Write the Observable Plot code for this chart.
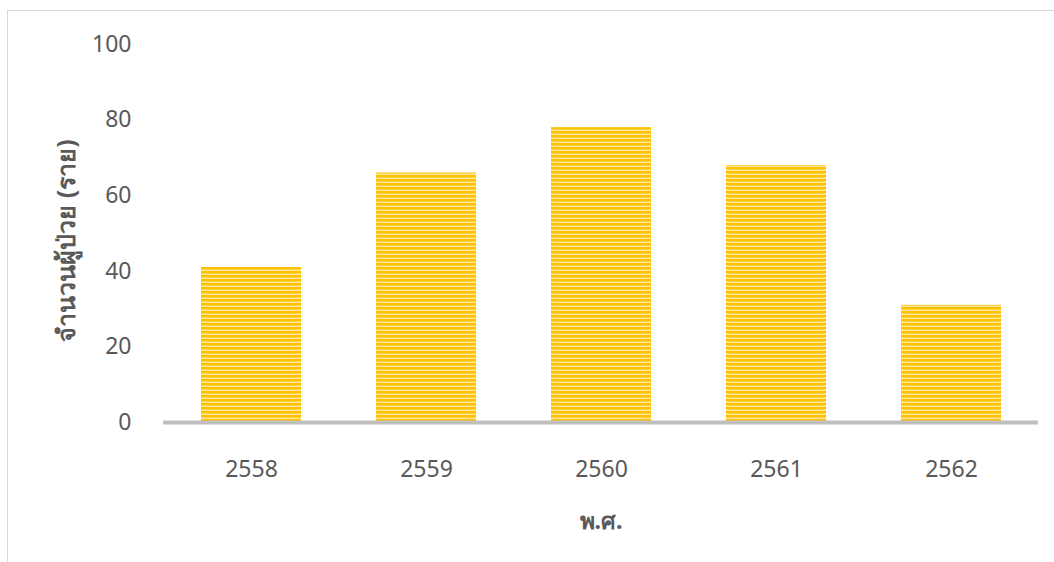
<!DOCTYPE html>
<html>
<head>
<meta charset="utf-8">
<script src="https://cdn.jsdelivr.net/npm/d3@7"></script>
<script src="https://cdn.jsdelivr.net/npm/@observablehq/plot@0.6"></script>
<style>
  html, body { margin: 0; padding: 0; background: #fff; overflow: hidden; }
  #frame { position: absolute; left: 7px; top: 10px; width: 1100px; height: 600px;
           border: 1px solid #d9d9d9; box-sizing: border-box; }
  #chart { position: absolute; left: 0; top: 0; }
</style>
</head>
<body>
<div id="frame"><div id="chart"></div></div>
<script>
// Patients per Buddhist-era year
const years = ["2558", "2559", "2560", "2561", "2562"];
const patients = [41, 66, 78, 68, 31];
const yTicks = [0, 20, 40, 60, 80, 100];
const yTitle = "จำนวนผู้ป่วย (ราย)";
const xTitle = "พ.ศ.";

const data = years.map((year, i) => ({year, value: patients[i]}));

const chart = Plot.plot({
  width: 1046,
  height: 551,
  marginLeft: 155,
  marginRight: 16,
  marginTop: 33,
  marginBottom: 140,
  style: {fontFamily: "'Noto Sans', sans-serif", fontSize: "23px", color: "#595959", background: "transparent"},
  x: {type: "band", domain: years, paddingInner: 0.43, paddingOuter: 0.215, label: null},
  y: {domain: [0, 100], label: null},
  marks: [
    Plot.barY(data, {x: "year", y: "value", fill: "url(#stripes)"}),
    Plot.ruleY([0], {stroke: "#bfbfbf", strokeWidth: 4}),
    Plot.axisY({ticks: yTicks, tickSize: 0, tickPadding: 32, label: null, fontSize: 23}),
    Plot.axisX({tickSize: 0, tickPadding: 38, label: null, fontSize: 23}),
    Plot.text([yTitle], {frameAnchor: "left", dx: -97, dy: 7, rotate: -90,
      textAnchor: "middle", lineAnchor: "middle",
      fontSize: 25, fontWeight: "bold", fill: "#595959"}),
    Plot.text([xTitle], {frameAnchor: "bottom", dy: 99, textAnchor: "middle",
      lineAnchor: "middle", fontSize: 23, fontWeight: "bold", fill: "#595959"})
  ]
});

// striped fill used by the bars
const defs = d3.select(chart).insert("defs", ":first-child");
const pat = defs.append("pattern")
  .attr("id", "stripes")
  .attr("patternUnits", "userSpaceOnUse")
  .attr("width", 8).attr("height", 4);
pat.append("rect").attr("width", 8).attr("height", 4).attr("fill", "#ffc000");
pat.append("rect").attr("y", 2).attr("width", 8).attr("height", 1).attr("fill", "#ffd24a");
pat.append("rect").attr("y", 3).attr("width", 8).attr("height", 1).attr("fill", "#ffe8a0");

document.getElementById("chart").append(chart);
</script>
</body>
</html>
